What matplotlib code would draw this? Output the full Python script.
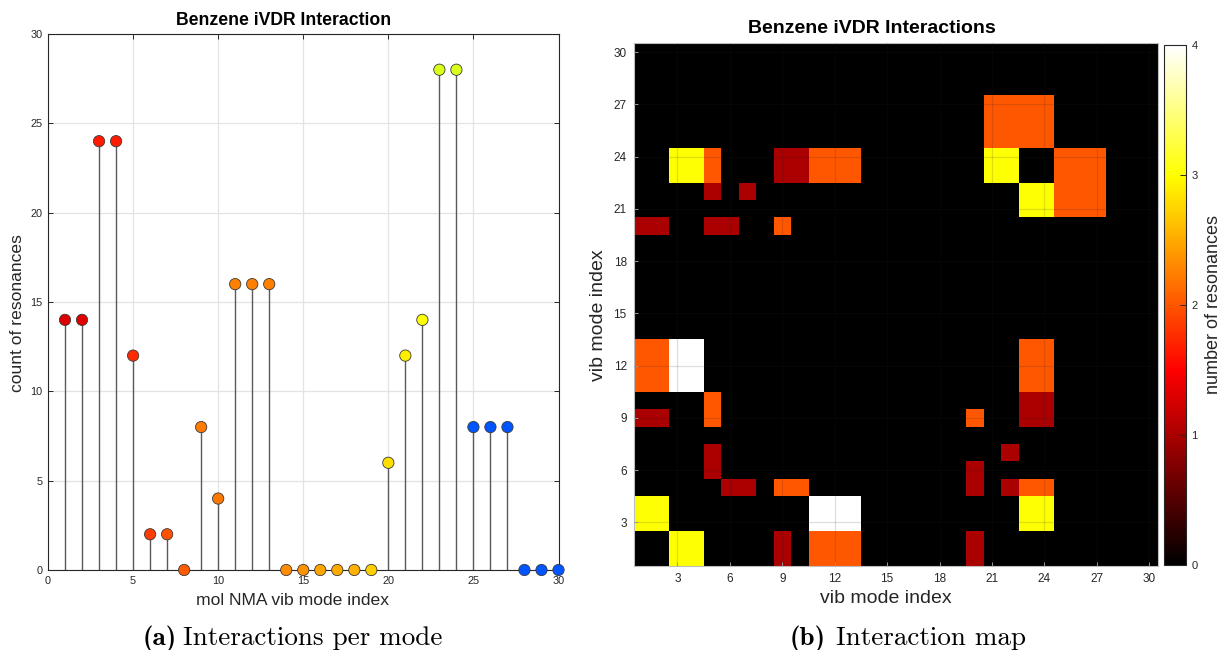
import numpy as np
import matplotlib
matplotlib.use("Agg")
import matplotlib.pyplot as plt
from matplotlib.colors import LinearSegmentedColormap

plt.rcParams['font.family'] = ['Liberation Sans', 'DejaVu Sans']

# ---- data -------------------------------------------------------------
modes = list(range(1, 31))
resonance_counts = [14, 14, 24, 24, 12, 2, 2, 0, 8, 4,
                    16, 16, 16, 0, 0, 0, 0, 0, 0, 6,
                    12, 14, 28, 28, 8, 8, 8, 0, 0, 0]

# marker face colour of every mode
mode_colors = ['#DD0000', '#DD0000', '#FF1A00', '#FF1A00', '#FF2A00',
               '#FF3D00', '#FF5200', '#FF5A00', '#FF7A00', '#FF7800',
               '#FF7F00', '#FF7F00', '#FF7F00', '#FF8C00', '#FF9200',
               '#FFA500', '#FFAA00', '#FFB000', '#FFD000', '#FFDF00',
               '#FFEE00', '#FFFF00', '#D9FF1A', '#D9FF1A', '#0055FF',
               '#0055FF', '#0055FF', '#0055FF', '#0055FF', '#0055FF']

# resonance blocks of the interaction map:
# (first x mode, last x mode, first y mode, last y mode, count)
interaction_blocks = [
    (21, 24, 25, 27, 2),
    (3, 4, 23, 24, 3), (5, 5, 23, 24, 2), (9, 10, 23, 24, 1),
    (11, 13, 23, 24, 2), (21, 22, 23, 24, 3),
    (25, 27, 21, 24, 2), (23, 24, 21, 22, 3),
    (5, 5, 22, 22, 1), (7, 7, 22, 22, 1),
    (1, 2, 20, 20, 1), (5, 6, 20, 20, 1), (9, 9, 20, 20, 2),
    (1, 2, 11, 13, 2), (3, 4, 11, 13, 4), (23, 24, 11, 13, 2),
    (5, 5, 9, 10, 2), (23, 24, 9, 10, 1),
    (1, 2, 9, 9, 1), (20, 20, 9, 9, 2),
    (5, 5, 6, 7, 1), (22, 22, 7, 7, 1), (20, 20, 5, 6, 1),
    (6, 7, 5, 5, 1), (9, 10, 5, 5, 2), (22, 22, 5, 5, 1), (23, 24, 5, 5, 2),
    (1, 2, 3, 4, 3), (11, 13, 3, 4, 4), (23, 24, 3, 4, 3),
    (3, 4, 1, 2, 3), (9, 9, 1, 2, 1), (11, 13, 1, 2, 2), (20, 20, 1, 2, 1),
]

count_ticks = [0, 5, 10, 15, 20, 25, 30]
map_ticks = [3, 6, 9, 12, 15, 18, 21, 24, 27, 30]
cbar_ticks = [0, 1, 2, 3, 4]

n_modes = len(modes)
interaction_map = np.zeros((n_modes, n_modes))
for x0, x1, y0, y1, val in interaction_blocks:
    interaction_map[y0 - 1:y1, x0 - 1:x1] = val

# ---- styling ----------------------------------------------------------
TXT = '#262626'
AXC = '#262626'
GRID = '#E3E3E3'

hot = LinearSegmentedColormap('hot_m', {
    'red':   [(0, 0, 0), (3 / 8, 1, 1), (1, 1, 1)],
    'green': [(0, 0, 0), (3 / 8, 0, 0), (6 / 8, 1, 1), (1, 1, 1)],
    'blue':  [(0, 0, 0), (6 / 8, 0, 0), (1, 1, 1)],
}, N=256)

W, H = 1220, 650
fig = plt.figure(figsize=(W / 100, H / 100), dpi=100)


def box(l, t, r, b):
    return [l / W, 1 - b / H, (r - l) / W, (b - t) / H]


# ---- (a) stem plot ----------------------------------------------------
ax1 = fig.add_axes(box(48, 34, 558.5, 570))
ax1.vlines(modes, 0, resonance_counts, colors='#5A5A5A', lw=1.0, zorder=2)
ax1.scatter(modes, resonance_counts, s=66, c=mode_colors, edgecolors='#3A3A3A',
            linewidths=0.6, zorder=3, clip_on=False)
ax1.set_xlim(0, 30)
ax1.set_ylim(0, 30)
ax1.set_xticks(count_ticks)
ax1.set_yticks(count_ticks)
ax1.grid(True, color=GRID, lw=0.9)
ax1.set_axisbelow(True)
ax1.tick_params(direction='in', length=3.5, width=0.7, colors=AXC,
                labelcolor=TXT, labelsize=7.8, top=True, right=True, pad=4)
for sp in ax1.spines.values():
    sp.set_color(AXC)
    sp.set_linewidth(0.8)
ax1.set_xlabel('mol NMA vib mode index', fontsize=12.6, color=TXT)
ax1.set_ylabel('count of resonances', fontsize=12.6, color=TXT)
ax1.xaxis.set_label_coords(0.479, -0.056)
ax1.xaxis.label.set_va('center')
ax1.yaxis.set_label_coords(-0.059, 0.48)
ax1.yaxis.label.set_va('center')
ax1.set_title('Benzene iVDR Interaction', fontsize=12.7, fontweight='bold',
              color='black', y=1.026, pad=0, va='center')
ax1.title.set_x(0.461)

# ---- (b) interaction map ----------------------------------------------
ax2 = fig.add_axes(box(633.7, 43.3, 1158, 566))
im = ax2.imshow(interaction_map, origin='lower', cmap=hot, vmin=0, vmax=4,
                extent=(0.5, n_modes + 0.5, 0.5, n_modes + 0.5),
                interpolation='nearest', aspect='auto', zorder=1)
ax2.set_xticks(map_ticks)
ax2.set_yticks(map_ticks)
ax2.grid(True, color=(0.15, 0.15, 0.15), alpha=0.15, lw=0.9, zorder=2)
ax2.set_axisbelow(False)
ax2.tick_params(direction='in', length=3, width=0.7, colors='#9A9A9A',
                labelcolor=TXT, labelsize=8.5, pad=5)
for sp in ax2.spines.values():
    sp.set_color('#BDBDBD')
    sp.set_linewidth(0.8)
ax2.set_xlabel('vib mode index', fontsize=14, color=TXT)
ax2.set_ylabel('vib mode index', fontsize=14, color=TXT)
ax2.xaxis.set_label_coords(0.48, -0.063)
ax2.xaxis.label.set_va('center')
ax2.yaxis.set_label_coords(-0.068, 0.48)
ax2.yaxis.label.set_va('center')
ax2.set_title('Benzene iVDR Interactions', fontsize=14, fontweight='bold',
              color='black', y=1.029, pad=0, va='center')
ax2.title.set_x(0.455)

cax = fig.add_axes(box(1163.6, 45, 1185.8, 565))
cb = fig.colorbar(im, cax=cax, ticks=cbar_ticks)
cb.outline.set_edgecolor(AXC)
cb.outline.set_linewidth(0.8)
cax.tick_params(direction='in', length=4, width=0.7, colors=AXC,
                labelcolor=TXT, labelsize=8, pad=4)
cb.set_label('number of resonances', fontsize=13, color=TXT, labelpad=5)

# ---- sub-captions -----------------------------------------------------
cap_y = 1 - 645 / H
fig.text(177 / W, cap_y, '(a)', family='cmb10', fontsize=19.5,
         ha='right', va='baseline')
fig.text(183 / W, cap_y, 'Interactions per mode', family='cmr10',
         fontsize=19.5, ha='left', va='baseline')
fig.text(826 / W, cap_y, '(b)', family='cmb10', fontsize=19.5,
         ha='right', va='baseline')
fig.text(836 / W, cap_y, 'Interaction map', family='cmr10',
         fontsize=19.5, ha='left', va='baseline')

fig.savefig('out.png', dpi=100, facecolor='white')
